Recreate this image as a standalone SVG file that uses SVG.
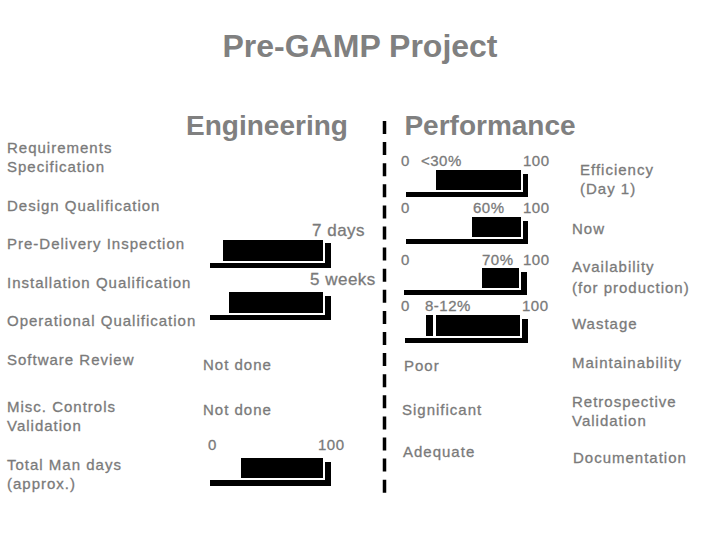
<svg xmlns="http://www.w3.org/2000/svg" width="720" height="540" viewBox="0 0 720 540">
<style>
text{font-family:"Liberation Sans",Arial,sans-serif;fill:#7a7a7a}
.t{font-size:32px;font-weight:bold;fill:#808080}
.h{font-size:28px;font-weight:bold;fill:#808080}
.l{font-size:15px;letter-spacing:1px;stroke:#7a7a7a;stroke-width:0.3px}
.s{font-size:15px;letter-spacing:0.5px;stroke:#7a7a7a;stroke-width:0.3px}
.m{font-size:17px;letter-spacing:0.5px;stroke:#7a7a7a;stroke-width:0.3px}
.bar{fill:#000}
</style>
<rect width="720" height="540" fill="#fff"/>
<g id="title"><text class="t" x="360" y="57" text-anchor="middle">Pre-GAMP Project</text></g>
<g id="hdr-eng"><text class="h" x="267" y="135" text-anchor="middle">Engineering</text></g>
<g id="hdr-perf"><text class="h" x="490" y="135" text-anchor="middle">Performance</text></g>
<g id="connectors"><line x1="384.5" y1="121" x2="384.5" y2="494" stroke="#000" stroke-width="3.5" stroke-dasharray="13 8.1"/></g>
<g id="left-labels">
<text class="l" x="7" y="153">Requirements</text>
<text class="l" x="7" y="172">Specification</text>
<text class="l" x="7" y="211">Design Qualification</text>
<text class="l" x="7" y="249">Pre-Delivery Inspection</text>
<text class="l" x="7" y="288">Installation Qualification</text>
<text class="l" x="7" y="326">Operational Qualification</text>
<text class="l" x="7" y="365">Software Review</text>
<text class="l" x="7" y="412">Misc. Controls</text>
<text class="l" x="7" y="431">Validation</text>
<text class="l" x="7" y="470">Total Man days</text>
<text class="l" x="7" y="489">(approx.)</text>
</g>
<g id="gauge-7days">
<text class="m" x="312" y="236">7 days</text>
<rect class="bar" x="223" y="240" width="100" height="21"/>
<path class="bar" d="M210 263H325V243H331V268H210Z"/>
</g>
<g id="gauge-5weeks">
<text class="m" x="310" y="285">5 weeks</text>
<rect class="bar" x="229" y="292" width="94" height="21"/>
<path class="bar" d="M210 315H325V296H331V320H210Z"/>
</g>
<g id="eng-lower">
<text class="l" x="203" y="370">Not done</text>
<text class="l" x="203" y="415">Not done</text>
</g>
<g id="gauge-mandays">
<text class="s" x="208" y="450">0</text>
<text class="s" x="318" y="450">100</text>
<rect class="bar" x="241" y="458" width="82" height="20"/>
<path class="bar" d="M210 480H325V462H331V486H210Z"/>
</g>
<g id="gauge-efficiency">
<text class="s" x="401" y="166">0</text>
<text class="s" x="421" y="166">&lt;30%</text>
<text class="s" x="523" y="166">100</text>
<rect class="bar" x="436" y="170" width="85" height="20"/>
<path class="bar" d="M406 192H523V174H528V197H406Z"/>
</g>
<g id="gauge-now">
<text class="s" x="401" y="213">0</text>
<text class="s" x="473" y="213">60%</text>
<text class="s" x="523" y="213">100</text>
<rect class="bar" x="472" y="217" width="49" height="20"/>
<path class="bar" d="M406 239H523V221H528V244H406Z"/>
</g>
<g id="gauge-availability">
<text class="s" x="401" y="265">0</text>
<text class="s" x="482" y="265">70%</text>
<text class="s" x="523" y="265">100</text>
<rect class="bar" x="482" y="268" width="37" height="20"/>
<path class="bar" d="M404 290H521V272H527V295H404Z"/>
</g>
<g id="gauge-wastage">
<text class="s" x="401" y="311">0</text>
<text class="s" x="425" y="311">8-12%</text>
<text class="s" x="522" y="311">100</text>
<rect class="bar" x="426" y="315" width="7" height="21"/>
<rect class="bar" x="436" y="315" width="84" height="21"/>
<path class="bar" d="M405 338H522V319H528V343H405Z"/>
</g>
<g id="perf-lower">
<text class="l" x="404" y="371">Poor</text>
<text class="l" x="402" y="415">Significant</text>
<text class="l" x="403" y="457">Adequate</text>
</g>
<g id="right-labels">
<text class="l" x="580" y="175">Efficiency</text>
<text class="l" x="580" y="194">(Day 1)</text>
<text class="l" x="572" y="234">Now</text>
<text class="l" x="572" y="272">Availability</text>
<text class="l" x="572" y="293">(for production)</text>
<text class="l" x="572" y="329">Wastage</text>
<text class="l" x="572" y="368">Maintainability</text>
<text class="l" x="572" y="407">Retrospective</text>
<text class="l" x="572" y="426">Validation</text>
<text class="l" x="573" y="463">Documentation</text>
</g>
</svg>
